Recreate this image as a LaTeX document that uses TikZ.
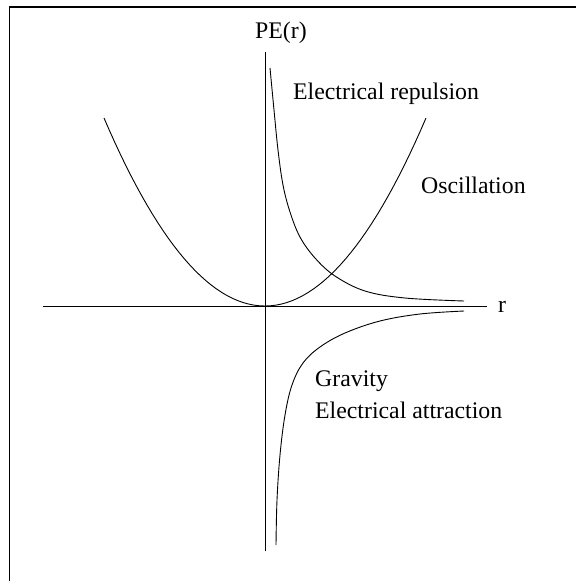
\documentclass[tikz,border=0pt]{standalone}
\usepackage{fontspec}
\setmainfont{Liberation Serif}
\usetikzlibrary{positioning}

\tikzset{
  lbl/.style={anchor=base west, inner sep=0pt, font=\fontsize{23.8}{28}\selectfont},
  curve/.style={line width=0.9pt, smooth, tension=0.6},
  axisline/.style={line width=0.9pt},
}

\begin{document}
\begin{tikzpicture}[x=1pt, y=-1pt]

    \useasboundingbox (0,0) rectangle (576,581);

    % =========================================================================
    % Frame (top and left edges only)
    % =========================================================================
    \draw[line width=1.2pt] (9.5,581) -- (9.5,7) -- (576,7);

    % =========================================================================
    % Axes
    % =========================================================================
    \coordinate (ytop) at (265,52);
    \coordinate (ybot) at (265,551);
    \coordinate (xleft) at (43,306);
    \coordinate (xright) at (487,306);
    \draw[axisline] (ybot) -- (ytop);
    \draw[axisline] (xleft) -- (xright);

    \node[lbl] (pelabel) at (255,38) {PE(r)};
    \node[lbl] (rlabel) at (498,312) {r};

    % =========================================================================
    % Potential curves
    % =========================================================================
    % Oscillation: parabola with its vertex at the origin
    \draw[axisline] plot[domain=-1:1, samples=61] ({265+161*\x}, {306-188*(\x)^2});

    % Electrical repulsion
    \draw[curve] plot coordinates {(270,68) (274,110) (278,150) (283,185) (290,212)
        (300,237) (315,258) (335,276) (365,291) (405,298) (464,301)};

    % Gravity / electrical attraction
    \draw[curve] plot coordinates {(464,311) (420,314) (380,321) (345,333) (320,347)
        (303,363) (292,385) (285,415) (280,455) (277,500) (276,545)};

    % =========================================================================
    % Labels
    % =========================================================================
    \node[lbl] (repulsion) at (293,99) {Electrical repulsion};
    \node[lbl] (oscillation) at (421,193) {Oscillation};
    \node[lbl] (gravity) at (315,386) {Gravity};
    \node[lbl] (attraction) at (315,418) {Electrical attraction};

\end{tikzpicture}
\end{document}
